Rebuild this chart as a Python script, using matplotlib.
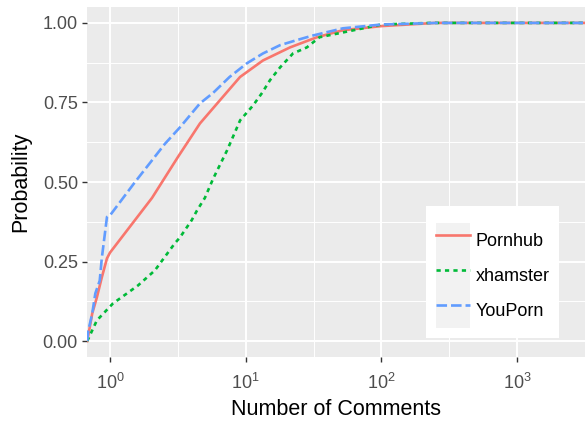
import matplotlib
matplotlib.use("Agg")
import matplotlib.pyplot as plt
from matplotlib.legend_handler import HandlerLine2D
from matplotlib.patches import Rectangle
from matplotlib.ticker import LogLocator, NullFormatter

plt.rcParams['font.family'] = ['Liberation Sans', 'DejaVu Sans']
plt.rcParams['mathtext.fontset'] = 'custom'
plt.rcParams['mathtext.rm'] = 'Liberation Sans'
plt.rcParams['mathtext.it'] = 'Liberation Sans:italic'

# ECDF curves (x = number of comments, p = cumulative probability)
pornhub_x = [0.68, 0.74, 0.80, 0.87, 0.95, 1.0, 2.04, 3.16, 4.6, 6.46, 9.08, 13.4, 21.2, 33.5, 52, 100, 250, 3200]
pornhub_p = [0, 0.087, 0.137, 0.20, 0.26, 0.278, 0.45, 0.578, 0.684, 0.757, 0.83, 0.882, 0.923, 0.955, 0.977, 0.99, 1.0, 1.0]

xhamster_x = [0.68, 0.80, 1.05, 1.61, 2.14, 3.0, 3.28, 4.0, 4.37, 5.0, 5.75, 7.3, 9.1, 11.3, 13.2, 15.1, 17.9, 22.3, 28.2, 35, 52, 100, 230, 3200]
xhamster_p = [0, 0.065, 0.118, 0.175, 0.222, 0.307, 0.326, 0.38, 0.41, 0.45, 0.51, 0.6, 0.694, 0.74, 0.78, 0.82, 0.86, 0.904, 0.923, 0.955, 0.97, 0.995, 1.0, 1.0]

youporn_x = [0.68, 0.69, 0.74, 0.78, 0.84, 0.87, 0.95, 1.0, 1.53, 2.54, 3.28, 4.6, 5.75, 7.6, 10.2, 13.4, 17.9, 23.8, 31, 52, 100, 257, 3200]
youporn_p = [0, 0.03, 0.087, 0.15, 0.19, 0.26, 0.39, 0.395, 0.5, 0.62, 0.672, 0.747, 0.78, 0.83, 0.873, 0.904, 0.93, 0.946, 0.96, 0.983, 0.995, 1.0, 1.0]

y_ticks = [0.0, 0.25, 0.5, 0.75, 1.0]
y_labels = ['0.00', '0.25', '0.50', '0.75', '1.00']


class KeyHandler(HandlerLine2D):
    # ggplot style grey key background behind each legend line
    def create_artists(self, legend, orig_handle, xdescent, ydescent,
                       width, height, fontsize, trans):
        arts = super().create_artists(legend, orig_handle, xdescent, ydescent,
                                      width, height, fontsize, trans)
        bg = Rectangle((-xdescent, -ydescent), width, height,
                       facecolor='#F2F2F2', edgecolor='none', transform=trans)
        return [bg] + list(arts)


fig = plt.figure(figsize=(5.85, 4.24), dpi=100)
ax = fig.add_axes([87 / 585, 67 / 424, 498 / 585, 350 / 424])
ax.set_facecolor('#EBEBEB')

ax.plot(pornhub_x, pornhub_p, color='#F8766D', lw=1.9, label='Pornhub')
ax.plot(xhamster_x, xhamster_p, color='#00BA38', lw=1.9, dashes=(1.6, 1.6), label='xhamster')
ax.plot(youporn_x, youporn_p, color='#619CFF', lw=1.9, dashes=(4, 1.5), label='YouPorn')

ax.set_xscale('log')
ax.set_xlim(0.677, 3162)
ax.set_ylim(-0.05, 1.05)
ax.xaxis.set_major_locator(LogLocator(base=10, numticks=10))
ax.xaxis.set_minor_locator(plt.FixedLocator([10 ** (k + 0.5) for k in range(-1, 4)]))
ax.xaxis.set_minor_formatter(NullFormatter())
ax.set_yticks(y_ticks)
ax.set_yticklabels(y_labels)
ax.set_yticks([0.125, 0.375, 0.625, 0.875], minor=True)

ax.grid(which='major', color='white', lw=1.4)
ax.grid(which='minor', color='white', lw=0.7)
ax.set_axisbelow(True)
for s in ax.spines.values():
    s.set_visible(False)

ax.tick_params(which='major', length=3.5, width=1, color='#333333',
               labelsize=13, labelcolor='#4D4D4D', pad=3)
ax.tick_params(which='minor', length=0)
ax.tick_params(axis='x', pad=8)

ax.set_xlabel('Number of Comments', fontsize=15.5, labelpad=4)
ax.set_ylabel('Probability', fontsize=15.5, labelpad=8)

leg = ax.legend(loc='lower left', bbox_to_anchor=(0.681, 0.054), fontsize=13,
                handlelength=1.88, handleheight=2.6, labelspacing=0,
                handletextpad=0.3, borderpad=0.55, borderaxespad=0,
                frameon=True, fancybox=False, framealpha=1,
                title=' ', title_fontsize=6,
                handler_map={plt.Line2D: KeyHandler()})
leg.get_frame().set_facecolor('white')
leg.get_frame().set_edgecolor('none')

fig.savefig('out.png', dpi=100)
